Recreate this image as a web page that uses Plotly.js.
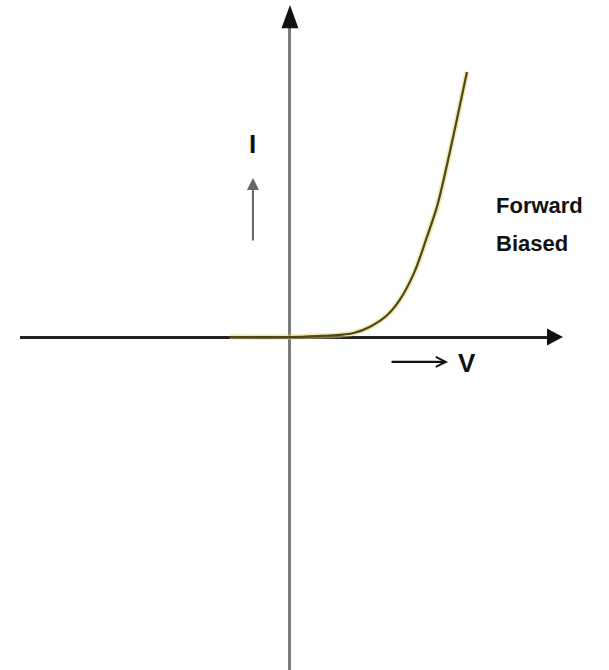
<!DOCTYPE html>
<html>
<head>
<meta charset="utf-8">
<script src="https://cdn.plot.ly/plotly-3.0.1.min.js"></script>
<style>html,body{margin:0;padding:0;background:#fff;}#chart{width:609px;height:670px;}</style>
</head>
<body>
<div id="chart"></div>
<script>
// Forward-biased diode I–V curve (V in volts, I in arbitrary units)
const voltage = [-0.34, 0, 0.17, 0.28, 0.36, 0.45, 0.55, 0.62, 0.70, 0.77, 0.83, 0.86, 0.93, 1.0];
const current = [0, 0, 0.04, 0.08, 0.15, 0.38, 0.83, 1.4, 2.4, 3.7, 4.9, 5.7, 7.8, 10.0];
const xLabel = "V";
const yLabel = "I";
const curveLabel = ["Forward", "Biased"];

const xRange = [-1.525, 1.469];
const yRange = [-12.566, 11.774];

const traces = [
  {x: voltage, y: current, mode: "lines", line: {color: "rgba(232,214,110,0.5)", width: 5.5, shape: "spline", smoothing: 1}, hoverinfo: "skip"},
  {x: voltage, y: current, mode: "lines", line: {color: "#4d4720", width: 2.2, shape: "spline", smoothing: 1}, hoverinfo: "skip"}
];

const textFont = {family: "Liberation Sans, Arial, sans-serif", size: 22, color: "#111"};
const axisFont = {family: "Liberation Sans, Arial, sans-serif", size: 26, color: "#111"};

const layout = {
  width: 609, height: 670,
  margin: {l: 20, r: 59, t: 25, b: 0},
  paper_bgcolor: "#fff", plot_bgcolor: "#fff",
  showlegend: false,
  xaxis: {range: xRange, showgrid: false, showticklabels: false, ticks: "", zeroline: true, zerolinecolor: "#7a7a7a", zerolinewidth: 3, showline: false, fixedrange: true},
  yaxis: {range: yRange, showgrid: false, showticklabels: false, ticks: "", zeroline: true, zerolinecolor: "#222", zerolinewidth: 3, showline: false, fixedrange: true},
  shapes: [
    {type: "path", xref: "x", yref: "paper", path: "M 0 1.031 L -0.048 0.995 L 0.048 0.995 Z", fillcolor: "#111", line: {width: 0}},
    {type: "path", xref: "paper", yref: "y", path: "M 1.0245 0 L 0.9943 0.32 L 0.9943 -0.32 Z", fillcolor: "#111", line: {width: 0}}
  ],
  annotations: [
    {x: -0.209, y: 7.3, xref: "x", yref: "y", text: "<b>" + yLabel + "</b>", showarrow: false, font: axisFont},
    {x: -0.209, y: 6.0, xref: "x", yref: "y", ax: 0, ay: 64, text: "", showarrow: true, arrowhead: 2, arrowsize: 1.2, arrowwidth: 2, arrowcolor: "#666"},
    {x: 0.893, y: -0.94, xref: "x", yref: "y", ax: -58, ay: 0, text: "", showarrow: true, arrowhead: 5, arrowsize: 0.9, arrowwidth: 2.2, arrowcolor: "#111"},
    {x: 1.0, y: -0.98, xref: "x", yref: "y", text: "<b>" + xLabel + "</b>", showarrow: false, font: axisFont},
    {x: (494 - 20) / 530, y: (670 - 205) / 645, xref: "paper", yref: "paper", xanchor: "left", yanchor: "middle", text: "<b>" + curveLabel[0] + "</b>", showarrow: false, font: textFont},
    {x: (494 - 20) / 530, y: (670 - 243) / 645, xref: "paper", yref: "paper", xanchor: "left", yanchor: "middle", text: "<b>" + curveLabel[1] + "</b>", showarrow: false, font: textFont}
  ]
};

Plotly.newPlot("chart", traces, layout, {displayModeBar: false, staticPlot: true});
</script>
</body>
</html>
